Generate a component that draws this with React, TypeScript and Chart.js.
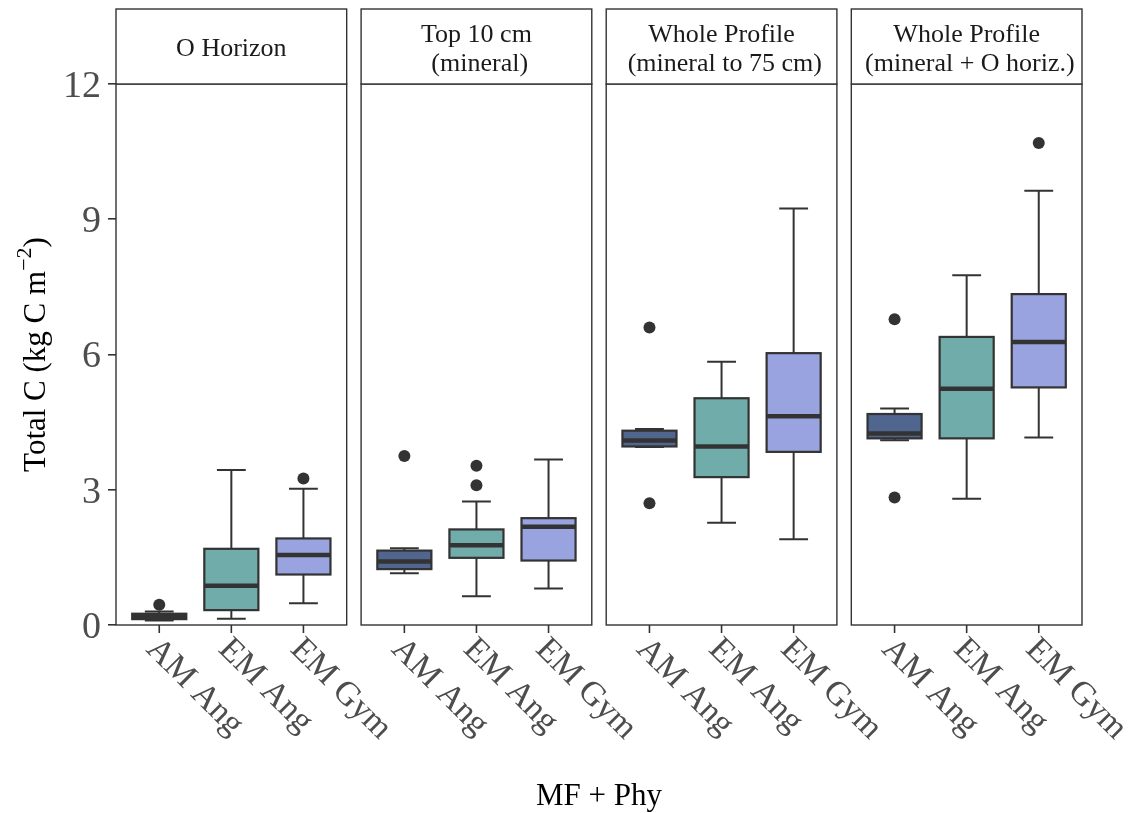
import React, { useEffect, useRef } from "react";
import { Chart, registerables } from "chart.js";

Chart.register(...registerables);

// ---------- data ----------
const facetLabels = [
  ["O Horizon"],
  ["Top 10 cm", " (mineral)"],
  ["Whole Profile", " (mineral to 75 cm)"],
  ["Whole Profile", " (mineral + O horiz.)"],
];
const groups = ["AM Ang", "EM Ang", "EM Gym"];
const groupColors = ["#50668F", "#6FACAA", "#99A3DF"];
const yTicks = [0, 3, 6, 9, 12];

// box stats per group: [lower whisker, Q1, median, Q3, upper whisker]
const oHorizonStats = [
  [0.1, 0.13, 0.19, 0.25, 0.3],
  [0.14, 0.33, 0.87, 1.69, 3.44],
  [0.48, 1.12, 1.55, 1.92, 3.02],
];
const top10Stats = [
  [1.15, 1.24, 1.41, 1.65, 1.7],
  [0.64, 1.49, 1.77, 2.12, 2.74],
  [0.81, 1.43, 2.18, 2.37, 3.67],
];
const profile75Stats = [
  [3.95, 3.96, 4.09, 4.31, 4.35],
  [2.27, 3.28, 3.96, 5.03, 5.84],
  [1.9, 3.84, 4.63, 6.03, 9.24],
];
const profileOStats = [
  [4.1, 4.14, 4.25, 4.68, 4.8],
  [2.8, 4.14, 5.24, 6.39, 7.76],
  [4.16, 5.27, 6.28, 7.34, 9.63],
];
const oHorizonOutliers = [[0.45], [], [3.25]];
const top10Outliers = [[3.75], [3.53, 3.1], []];
const profile75Outliers = [[6.6, 2.7], [], []];
const profileOOutliers = [[6.78, 2.83], [], [10.69]];

const facetStats = [oHorizonStats, top10Stats, profile75Stats, profileOStats];
const facetOutliers = [oHorizonOutliers, top10Outliers, profile75Outliers, profileOOutliers];

// ---------- layout helpers (in category units) ----------
const EXPAND = 0.6;
const PANEL_SPAN = groups.length - 1 + 2 * EXPAND; // 3.2
const GAP = 0.2;
const BOX_W = 0.75;
const CAP_W = 0.4;
const X_MAX = facetLabels.length * PANEL_SPAN + (facetLabels.length - 1) * GAP;
const pos = (k: number, j: number) => k * (PANEL_SPAN + GAP) + EXPAND + j;

const SERIF = "'Liberation Serif', 'Times New Roman', serif";
const LINE = "#333333";

const facetPlugin = {
  id: "facetBoxes",
  beforeDatasetsDraw(chart: any) {
    const { ctx, scales } = chart;
    const x = scales.x;
    const y = scales.y;
    const unit = x.getPixelForValue(1) - x.getPixelForValue(0);
    ctx.save();
    facetStats.forEach((facet, k) => {
      facet.forEach((s, j) => {
        const cx = x.getPixelForValue(pos(k, j));
        const [lo, q1, med, q3, hi] = s.map((v) => y.getPixelForValue(v));
        const bw = (BOX_W * unit) / 2;
        const cw = (CAP_W * unit) / 2;
        ctx.strokeStyle = LINE;
        ctx.lineWidth = 2;
        ctx.lineCap = "butt";
        ctx.beginPath();
        ctx.moveTo(cx, q3);
        ctx.lineTo(cx, hi);
        ctx.moveTo(cx, q1);
        ctx.lineTo(cx, lo);
        ctx.moveTo(cx - cw, hi);
        ctx.lineTo(cx + cw, hi);
        ctx.moveTo(cx - cw, lo);
        ctx.lineTo(cx + cw, lo);
        ctx.stroke();
        ctx.fillStyle = groupColors[j];
        ctx.fillRect(cx - bw, q3, 2 * bw, q1 - q3);
        ctx.lineWidth = 2.2;
        ctx.strokeRect(cx - bw, q3, 2 * bw, q1 - q3);
        ctx.lineWidth = 4.5;
        ctx.beginPath();
        ctx.moveTo(cx - bw, med);
        ctx.lineTo(cx + bw, med);
        ctx.stroke();
      });
    });
    ctx.restore();
  },
  afterDraw(chart: any) {
    const { ctx, scales, chartArea } = chart;
    const x = scales.x;
    const { top, bottom } = chartArea;
    ctx.save();
    facetLabels.forEach((lines, k) => {
      const left = x.getPixelForValue(k * (PANEL_SPAN + GAP));
      const right = x.getPixelForValue(k * (PANEL_SPAN + GAP) + PANEL_SPAN);
      // panel border
      ctx.strokeStyle = LINE;
      ctx.lineWidth = 1.4;
      ctx.strokeRect(left, top, right - left, bottom - top);
      // strip
      const stripTop = 9;
      ctx.fillStyle = "#ffffff";
      ctx.fillRect(left, stripTop, right - left, top - stripTop);
      ctx.strokeRect(left, stripTop, right - left, top - stripTop);
      ctx.fillStyle = "#1A1A1A";
      ctx.font = `26px ${SERIF}`;
      ctx.textAlign = "center";
      ctx.textBaseline = "middle";
      const mid = (stripTop + top) / 2;
      const lh = 29;
      lines.forEach((t, i) => {
        const yy = mid + (i - (lines.length - 1) / 2) * lh + 3;
        ctx.fillText(t, (left + right) / 2, yy);
      });
      // x ticks + labels
      groups.forEach((g, j) => {
        const cx = x.getPixelForValue(pos(k, j));
        ctx.strokeStyle = LINE;
        ctx.lineWidth = 1.6;
        ctx.beginPath();
        ctx.moveTo(cx, bottom);
        ctx.lineTo(cx, bottom + 8);
        ctx.stroke();
        ctx.save();
        ctx.translate(cx, bottom + 7);
        ctx.rotate(Math.PI / 4);
        ctx.fillStyle = "#4D4D4D";
        ctx.font = `34px ${SERIF}`;
        ctx.textAlign = "left";
        ctx.textBaseline = "alphabetic";
        ctx.fillText(g, 3, 23);
        ctx.restore();
      });
    });
    // x axis title
    ctx.fillStyle = "#000000";
    ctx.font = `31px ${SERIF}`;
    ctx.textAlign = "center";
    ctx.textBaseline = "middle";
    ctx.fillText("MF + Phy", (chartArea.left + chartArea.right) / 2, 797);
    // y axis title with superscript
    ctx.save();
    ctx.translate(35, (top + bottom) / 2);
    ctx.rotate(-Math.PI / 2);
    const mainT = "Total C (kg C m";
    const supT = "\u22122";
    const endT = ")";
    ctx.font = `31px ${SERIF}`;
    const w1 = ctx.measureText(mainT).width;
    const w3 = ctx.measureText(endT).width;
    ctx.font = `22px ${SERIF}`;
    const w2 = ctx.measureText(supT).width;
    let sx = -(w1 + w2 + w3) / 2;
    ctx.textAlign = "left";
    ctx.textBaseline = "alphabetic";
    ctx.font = `31px ${SERIF}`;
    ctx.fillText(mainT, sx, 10);
    sx += w1;
    ctx.font = `22px ${SERIF}`;
    ctx.fillText(supT, sx, -4);
    sx += w2;
    ctx.font = `31px ${SERIF}`;
    ctx.fillText(endT, sx, 10);
    ctx.restore();
    ctx.restore();
  },
};

export default function App() {
  const ref = useRef<HTMLCanvasElement | null>(null);
  useEffect(() => {
    if (!ref.current) return;
    const outlierData: { x: number; y: number }[] = [];
    facetOutliers.forEach((facet, k) =>
      facet.forEach((vals, j) => vals.forEach((v) => outlierData.push({ x: pos(k, j), y: v })))
    );
    const chart = new Chart(ref.current, {
      type: "scatter",
      data: {
        datasets: [
          {
            label: "outliers",
            data: outlierData,
            pointRadius: 6,
            pointHoverRadius: 6,
            backgroundColor: LINE,
            borderWidth: 0,
          },
        ],
      },
      options: {
        animation: false,
        responsive: false,
        events: [],
        layout: { padding: { left: 0, top: 84, right: 60, bottom: 188 } },
        plugins: { legend: { display: false }, tooltip: { enabled: false } },
        scales: {
          x: { type: "linear", min: 0, max: X_MAX, display: false },
          y: {
            type: "linear",
            min: 0,
            max: 12,
            afterBuildTicks: (scale: any) => {
              scale.ticks = yTicks.map((v) => ({ value: v }));
            },
            afterFit: (scale: any) => {
              scale.width = 116;
            },
            border: { display: false },
            grid: {
              drawOnChartArea: false,
              drawTicks: true,
              tickLength: 8,
              color: LINE,
              lineWidth: 1.6,
            },
            ticks: {
              color: "#4D4D4D",
              font: { family: SERIF, size: 38 },
              padding: 7,
              labelOffset: 3,
            },
          },
        },
      },
      plugins: [facetPlugin],
    });
    return () => chart.destroy();
  }, []);
  return (
    <div style={{ position: "fixed", left: 0, top: 0, width: 1142, height: 813, background: "#fff" }}>
      <canvas ref={ref} width={1142} height={813} style={{ width: 1142, height: 813, display: "block" }} />
    </div>
  );
}
